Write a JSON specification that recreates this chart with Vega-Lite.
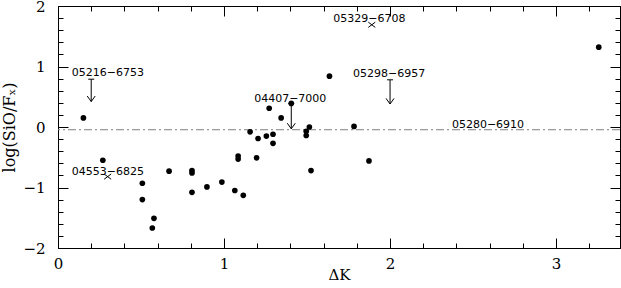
{
  "$schema": "https://vega.github.io/schema/vega-lite/v6.json",
  "width": 562,
  "height": 242,
  "autosize": {"type": "none"},
  "padding": {"left": 58, "top": 6, "right": 1, "bottom": 40},
  "background": "white",
  "config": {
    "view": {"stroke": "black", "strokeWidth": 1},
    "axis": {"grid": false, "domainColor": "black", "tickColor": "black", "labelColor": "black", "titleColor": "black", "tickWidth": 1, "domainWidth": 1}
  },
  "datasets": {
    "pts": [
      {"dk": 0.153, "r": 0.15}, {"dk": 0.27, "r": -0.55}, {"dk": 0.508, "r": -0.93}, {"dk": 0.508, "r": -1.2},
      {"dk": 0.578, "r": -1.51}, {"dk": 0.568, "r": -1.67}, {"dk": 0.669, "r": -0.73}, {"dk": 0.807, "r": -0.72},
      {"dk": 0.807, "r": -0.76}, {"dk": 0.807, "r": -1.08}, {"dk": 0.897, "r": -0.99}, {"dk": 0.987, "r": -0.91},
      {"dk": 1.065, "r": -1.05}, {"dk": 1.085, "r": -0.48}, {"dk": 1.085, "r": -0.53}, {"dk": 1.116, "r": -1.13},
      {"dk": 1.157, "r": -0.08}, {"dk": 1.196, "r": -0.51}, {"dk": 1.205, "r": -0.19}, {"dk": 1.255, "r": -0.15},
      {"dk": 1.272, "r": 0.31}, {"dk": 1.295, "r": -0.12}, {"dk": 1.295, "r": -0.27}, {"dk": 1.344, "r": 0.15},
      {"dk": 1.405, "r": 0.39}, {"dk": 1.495, "r": -0.07}, {"dk": 1.495, "r": -0.14}, {"dk": 1.514, "r": 0.0},
      {"dk": 1.524, "r": -0.72}, {"dk": 1.635, "r": 0.84}, {"dk": 1.783, "r": 0.01}, {"dk": 1.873, "r": -0.56},
      {"dk": 3.257, "r": 1.32}
    ],
    "arrows": [
      {"name": "05216-6753", "dk": 0.2, "top": 0.79, "tip": 0.42},
      {"name": "04407-7000", "dk": 1.405, "top": 0.39, "tip": -0.03},
      {"name": "05298-6957", "dk": 2.0, "top": 0.78, "tip": 0.38}
    ],
    "crosses": [
      {"name": "05329-6708", "dk": 1.89, "r": 1.69},
      {"name": "04553-6825", "dk": 0.299, "r": -0.82}
    ],
    "labels": [
      {"label": "05216−6753", "dk": 0.3, "r": 0.9},
      {"label": "04407−7000", "dk": 1.399, "r": 0.456},
      {"label": "05298−6957", "dk": 1.994, "r": 0.87},
      {"label": "05329−6708", "dk": 1.875, "r": 1.79},
      {"label": "04553−6825", "dk": 0.3, "r": -0.744},
      {"label": "05280−6910", "dk": 2.59, "r": 0.03}
    ],
    "ref": [{"r": -0.045}]
  },
  "layer": [
    {
      "data": {"name": "ref"},
      "mark": {"type": "rule", "color": "#808080", "strokeWidth": 1, "strokeDash": [8, 3, 2, 3]},
      "encoding": {
        "y": {"field": "r", "type": "quantitative", "scale": {"domain": [-2, 2], "nice": false, "zero": false}, "axis": null}
      }
    },
    {
      "data": {"name": "pts"},
      "mark": {"type": "point", "shape": "circle", "filled": true, "color": "black", "size": 32, "opacity": 1},
      "encoding": {
        "x": {"field": "dk", "type": "quantitative", "scale": {"domain": [0, 3.385], "nice": false, "zero": false},
          "axis": {"orient": "bottom",
            "values": [0, 0.2, 0.4, 0.6, 0.8, 1, 1.2, 1.4, 1.6, 1.8, 2, 2.2, 2.4, 2.6, 2.8, 3, 3.2],
            "tickSize": {"condition": {"test": "abs(datum.value - round(datum.value)) < 0.000001", "value": -10}, "value": -5},
            "labelExpr": "abs(datum.value - round(datum.value)) < 0.000001 ? format(datum.value, 'd') : ''",
            "labelPadding": 18, "labelFont": "DejaVu Serif", "labelFontSize": 15, "labelOverlap": false, "labelFlush": false,
            "title": "ΔK", "titleFont": "DejaVu Serif", "titleFontSize": 15, "titleFontWeight": "normal", "titlePadding": -9}},
        "y": {"field": "r", "type": "quantitative", "scale": {"domain": [-2, 2], "nice": false, "zero": false},
          "axis": {"orient": "left",
            "values": [-2, -1.8, -1.6, -1.4, -1.2, -1, -0.8, -0.6, -0.4, -0.2, 0, 0.2, 0.4, 0.6, 0.8, 1, 1.2, 1.4, 1.6, 1.8, 2],
            "tickSize": {"condition": {"test": "abs(datum.value - round(datum.value)) < 0.000001", "value": -10}, "value": -5},
            "labelExpr": "abs(datum.value - round(datum.value)) < 0.000001 ? format(datum.value, 'd') : ''",
            "labelPadding": 23, "labelFont": "DejaVu Serif", "labelFontSize": 15, "labelOverlap": false, "labelFlush": false,
            "title": "log(SiO/Fₓ)", "titleFont": "DejaVu Serif", "titleFontSize": 16, "titleFontWeight": "normal", "titlePadding": 5}}
      }
    },
    {
      "data": {"name": "arrows"},
      "mark": {"type": "rule", "color": "black", "strokeWidth": 1},
      "encoding": {
        "x": {"field": "dk", "type": "quantitative", "scale": {"domain": [0, 3.385], "nice": false, "zero": false}, "axis": null},
        "y": {"field": "top", "type": "quantitative", "scale": {"domain": [-2, 2], "nice": false, "zero": false}, "axis": null},
        "y2": {"field": "tip"}
      }
    },
    {
      "data": {"name": "arrows"},
      "mark": {"type": "point", "shape": "M-1,-1.4L0,0L1,-1.4", "filled": false, "stroke": "black", "strokeWidth": 1, "size": 64, "opacity": 1},
      "encoding": {
        "x": {"field": "dk", "type": "quantitative", "scale": {"domain": [0, 3.385], "nice": false, "zero": false},
          "axis": {"orient": "top", "labels": false, "title": null,
            "values": [0, 0.2, 0.4, 0.6, 0.8, 1, 1.2, 1.4, 1.6, 1.8, 2, 2.2, 2.4, 2.6, 2.8, 3, 3.2],
            "tickSize": {"condition": {"test": "abs(datum.value - round(datum.value)) < 0.000001", "value": -10}, "value": -5}}},
        "y": {"field": "tip", "type": "quantitative", "scale": {"domain": [-2, 2], "nice": false, "zero": false},
          "axis": {"orient": "right", "labels": false, "title": null,
            "values": [-2, -1.8, -1.6, -1.4, -1.2, -1, -0.8, -0.6, -0.4, -0.2, 0, 0.2, 0.4, 0.6, 0.8, 1, 1.2, 1.4, 1.6, 1.8, 2],
            "tickSize": {"condition": {"test": "abs(datum.value - round(datum.value)) < 0.000001", "value": -10}, "value": -5}}}
      }
    },
    {
      "data": {"name": "arrows"},
      "mark": {"type": "point", "shape": "M-1,0L1,0", "filled": false, "stroke": "black", "strokeWidth": 1, "size": 36, "opacity": 1},
      "encoding": {
        "x": {"field": "dk", "type": "quantitative", "scale": {"domain": [0, 3.385], "nice": false, "zero": false}, "axis": null},
        "y": {"field": "top", "type": "quantitative", "scale": {"domain": [-2, 2], "nice": false, "zero": false}, "axis": null}
      }
    },
    {
      "data": {"name": "crosses"},
      "mark": {"type": "point", "shape": "M-1,-0.75L1,0.75M-1,0.75L1,-0.75", "filled": false, "stroke": "black", "strokeWidth": 1, "size": 49, "opacity": 1},
      "encoding": {
        "x": {"field": "dk", "type": "quantitative", "scale": {"domain": [0, 3.385], "nice": false, "zero": false}, "axis": null},
        "y": {"field": "r", "type": "quantitative", "scale": {"domain": [-2, 2], "nice": false, "zero": false}, "axis": null}
      }
    },
    {
      "data": {"name": "labels"},
      "mark": {"type": "text", "font": "DejaVu Sans", "fontSize": 11, "color": "black", "align": "center", "baseline": "middle"},
      "encoding": {
        "x": {"field": "dk", "type": "quantitative", "scale": {"domain": [0, 3.385], "nice": false, "zero": false}, "axis": null},
        "y": {"field": "r", "type": "quantitative", "scale": {"domain": [-2, 2], "nice": false, "zero": false}, "axis": null},
        "text": {"field": "label"}
      }
    }
  ],
  "resolve": {"axis": {"x": "independent", "y": "independent"}}
}
